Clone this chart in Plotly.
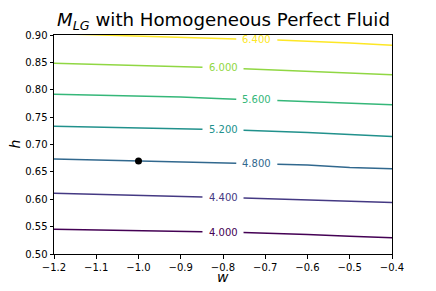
import numpy as np
import plotly.graph_objects as go

# ---- data ----
levels = [4.0, 4.4, 4.8, 5.2, 5.6, 6.0, 6.4]
w_grid = [-1.2, -1.1, -1.0, -0.9, -0.8, -0.7, -0.6, -0.5, -0.4]
h_4_0 = [0.5454, 0.5438, 0.5423, 0.5410, 0.5400, 0.5385, 0.5357, 0.5323, 0.5296]
h_4_4 = [0.6111, 0.6090, 0.6069, 0.6051, 0.6033, 0.6012, 0.5989, 0.5964, 0.5940]
h_4_8 = [0.6737, 0.6719, 0.6701, 0.6682, 0.6664, 0.6648, 0.6624, 0.6580, 0.6555]
h_5_2 = [0.7334, 0.7318, 0.7303, 0.7290, 0.7270, 0.7250, 0.7221, 0.7183, 0.7144]
h_5_6 = [0.7918, 0.7901, 0.7885, 0.7867, 0.7836, 0.7810, 0.7787, 0.7758, 0.7728]
h_6_0 = [0.8484, 0.8463, 0.8442, 0.8420, 0.8398, 0.8370, 0.8343, 0.8310, 0.8276]
h_6_4 = [0.9025, 0.9005, 0.8975, 0.8954, 0.8932, 0.8918, 0.8890, 0.8854, 0.8812]
contour_h = [h_4_0, h_4_4, h_4_8, h_5_2, h_5_6, h_6_0, h_6_4]
dot_w = [-1.0]
dot_h = [0.67]
x_ticks = [-1.2, -1.1, -1.0, -0.9, -0.8, -0.7, -0.6, -0.5, -0.4]
x_tick_labels = ["\u22121.2", "\u22121.1", "\u22121.0", "\u22120.9", "\u22120.8",
                 "\u22120.7", "\u22120.6", "\u22120.5", "\u22120.4"]
y_ticks = [0.50, 0.55, 0.60, 0.65, 0.70, 0.75, 0.80, 0.85, 0.90]
y_tick_labels = ["0.50", "0.55", "0.60", "0.65", "0.70", "0.75", "0.80", "0.85", "0.90"]

# ---- style ----
colors = ["#440154", "#443983", "#31688e", "#21918c", "#35b779", "#90d743", "#fde725"]
label_w = [-0.80, -0.80, -0.72, -0.80, -0.72, -0.80, -0.72]
half_gap = 0.0486
font = "DejaVu Sans"

fig = go.Figure()
annotations = []
for lev, hs, col, wl in zip(levels, contour_h, colors, label_w):
    ws = np.array(w_grid)
    hv = np.array(hs)
    left = ws < wl - half_gap
    right = ws > wl + half_gap
    ha = float(np.interp(wl - half_gap, ws, hv))
    hb = float(np.interp(wl + half_gap, ws, hv))
    xs = list(ws[left]) + [wl - half_gap, None, wl + half_gap] + list(ws[right])
    ys = list(hv[left]) + [ha, None, hb] + list(hv[right])
    fig.add_trace(go.Scatter(x=xs, y=ys, mode="lines",
                             line=dict(color=col, width=1.5),
                             showlegend=False, hoverinfo="skip"))
    annotations.append(dict(x=wl, y=float(np.interp(wl, ws, hv)), xref="x", yref="y",
                            text=f"{lev:.3f}", showarrow=False,
                            font=dict(family=font, size=10, color=col),
                            xanchor="center", yanchor="middle"))

fig.add_trace(go.Scatter(x=dot_w, y=dot_h, mode="markers",
                         marker=dict(color="black", size=7),
                         showlegend=False, hoverinfo="skip"))

# title
annotations.append(dict(x=0.5, y=1, xref="paper", yref="paper", yanchor="bottom",
                        xanchor="center", yshift=0, showarrow=False,
                        text="<i>M</i><sub><i>LG</i></sub> with Homogeneous Perfect Fluid",
                        font=dict(family=font, size=18.2, color="black")))
# axis titles
annotations.append(dict(x=0.5, y=0, xref="paper", yref="paper", yanchor="middle",
                        xanchor="center", yshift=-23, showarrow=False, borderpad=0,
                        text="<i>w</i>", font=dict(family=font, size=14, color="black")))
annotations.append(dict(x=0, y=0.5, xref="paper", yref="paper", yanchor="middle",
                        xanchor="center", xshift=-40, showarrow=False, textangle=-90,
                        borderpad=0,
                        text="<i>h</i>", font=dict(family=font, size=14, color="black")))

axis_common = dict(showgrid=False, zeroline=False, showline=True, linecolor="black",
                   linewidth=1, mirror=True, ticks="outside", ticklen=3.5,
                   tickwidth=0.8, tickcolor="black", automargin=False,
                   tickfont=dict(family=font, size=10, color="black"))

# the page body has an 8px default margin, so the figure is offset by 8px
fig.update_layout(
    width=428, height=283,
    margin=dict(l=46, r=44, t=27, b=37),
    paper_bgcolor="white", plot_bgcolor="white",
    annotations=annotations,
    xaxis=dict(range=[-1.2, -0.4], tickvals=x_ticks, ticktext=x_tick_labels,
               **axis_common),
    yaxis=dict(range=[0.5, 0.9], tickvals=y_ticks, ticktext=y_tick_labels,
               **axis_common),
)

fig.write_html("out.html")
